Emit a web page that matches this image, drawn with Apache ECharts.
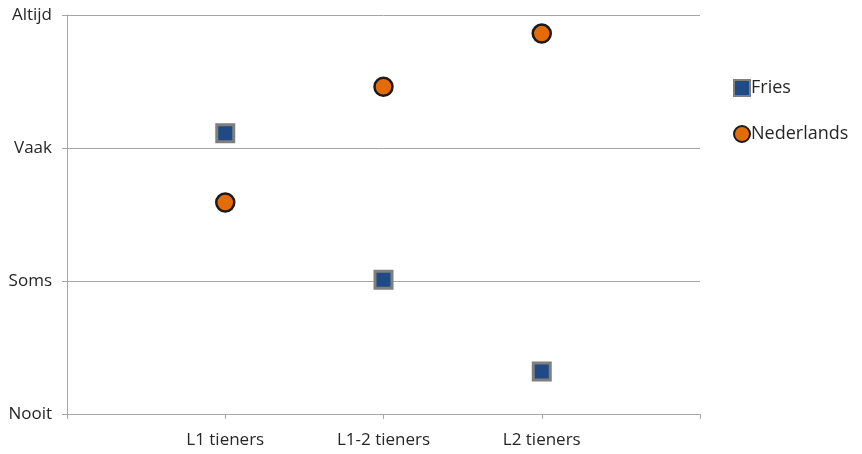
<!DOCTYPE html>
<html>
<head>
<meta charset="utf-8">
<script src="https://cdn.jsdelivr.net/npm/echarts@6/dist/echarts.min.js"></script>
<style>
  html, body { margin: 0; padding: 0; background: #fff; }
  #chart { width: 862px; height: 454px; }
</style>
</head>
<body>
<div id="chart"></div>
<script>
// Groups along the x axis (positions 1..3)
const groups = ['L1 tieners', 'L1-2 tieners', 'L2 tieners'];
// Frequency scale on the y axis (0..3)
const frequencyLabels = ['Nooit', 'Soms', 'Vaak', 'Altijd'];
// Average reported frequency per group
const fries = [2.11, 1.01, 0.32];
const nederlands = [1.59, 2.46, 2.86];

const toPoints = vals => vals.map((v, i) => [i + 1, v]);

const textColor = '#262626';
const font = 'Open Sans';

const chart = echarts.init(document.getElementById('chart'), null, { renderer: 'canvas' });
chart.setOption({
  animation: false,
  textStyle: { fontFamily: font },
  grid: { left: 67, right: 162, top: 15, bottom: 40 },
  legend: {
    orient: 'vertical',
    left: 728,
    top: 72,
    itemGap: 24,
    itemWidth: 16,
    itemHeight: 16,
    textStyle: { fontFamily: font, fontSize: 18, lineHeight: 22, color: textColor, padding: [0, 0, 0, -4] },
    data: ['Fries', 'Nederlands']
  },
  xAxis: {
    type: 'value',
    min: 0,
    max: 4,
    interval: 1,
    splitLine: { show: false },
    axisLine: { show: true, lineStyle: { color: '#a6a6a6', width: 1 } },
    axisTick: { show: true, length: 5, lineStyle: { color: '#a6a6a6' } },
    axisLabel: {
      margin: 18,
      fontFamily: font,
      fontSize: 17,
      color: textColor,
      formatter: v => groups[v - 1] || ''
    }
  },
  yAxis: {
    type: 'value',
    min: 0,
    max: 3,
    interval: 1,
    axisLine: { show: true, lineStyle: { color: '#a6a6a6', width: 1 } },
    axisTick: { show: true, length: 5, lineStyle: { color: '#a6a6a6' } },
    splitLine: { show: true, lineStyle: { color: '#a6a6a6', width: 1 } },
    axisLabel: {
      margin: 15,
      fontFamily: font,
      fontSize: 17,
      color: textColor,
      formatter: v => frequencyLabels[v] || ''
    }
  },
  series: [
    {
      name: 'Fries',
      type: 'scatter',
      symbol: 'rect',
      symbolSize: 17,
      itemStyle: { color: '#1f4a85', borderColor: '#7f7f7f', borderWidth: 3, opacity: 1 },
      data: toPoints(fries)
    },
    {
      name: 'Nederlands',
      type: 'scatter',
      symbol: 'circle',
      symbolSize: 18,
      itemStyle: { color: '#e36c09', borderColor: '#1a1a1a', borderWidth: 2.5, opacity: 1 },
      data: toPoints(nederlands)
    }
  ]
});
</script>
</body>
</html>
